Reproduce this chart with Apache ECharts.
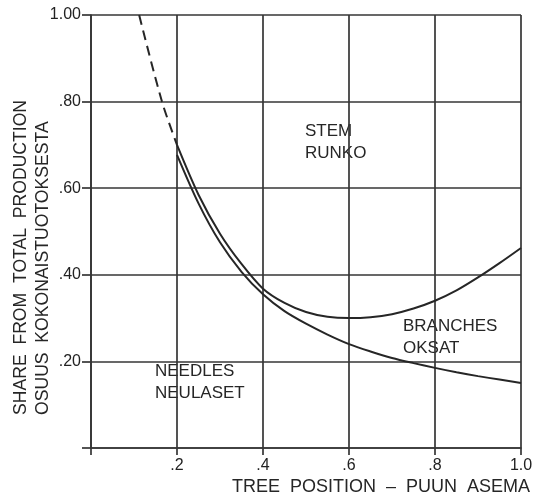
<!DOCTYPE html>
<html>
<head>
<meta charset="utf-8">
<script src="https://cdn.jsdelivr.net/npm/echarts@6/dist/echarts.min.js"></script>
<style>
html,body{margin:0;padding:0;background:#fff;}
#chart{width:534px;height:496px;}
</style>
</head>
<body>
<div id="chart"></div>
<script>
// ---- data ----
const xTicks = [0.2, 0.4, 0.6, 0.8, 1.0];
const xTickLabels = ['.2', '.4', '.6', '.8', '1.0'];
const yTicks = [0.2, 0.4, 0.6, 0.8, 1.0];
const yTickLabels = ['.20', '.40', '.60', '.80', '1.00'];

// stem / branches boundary (upper curve)
const stemX = [0.20, 0.25, 0.30, 0.35, 0.40, 0.45, 0.50, 0.55, 0.60, 0.65, 0.70, 0.75, 0.80, 0.85, 0.90, 0.95, 1.00];
const stemY = [0.700, 0.585, 0.495, 0.425, 0.368, 0.335, 0.314, 0.303, 0.300, 0.302, 0.309, 0.322, 0.340, 0.364, 0.394, 0.427, 0.462];

// branches / needles boundary (lower curve)
const needleX = [0.20, 0.25, 0.30, 0.35, 0.40, 0.45, 0.50, 0.55, 0.60, 0.65, 0.70, 0.75, 0.80, 0.85, 0.90, 0.95, 1.00];
const needleY = [0.677, 0.565, 0.475, 0.407, 0.355, 0.316, 0.287, 0.262, 0.240, 0.223, 0.208, 0.196, 0.185, 0.175, 0.166, 0.158, 0.150];

// dashed extrapolation
const dashX = [0.112, 0.165, 0.20];
const dashY = [1.00, 0.80, 0.70];

const regionLabels = [
  ['STEM', 'RUNKO'],
  ['BRANCHES', 'OKSAT'],
  ['NEEDLES', 'NEULASET']
];
const xAxisTitle = 'TREE  POSITION  –  PUUN  ASEMA';
const yAxisTitle1 = 'SHARE  FROM  TOTAL  PRODUCTION';
const yAxisTitle2 = 'OSUUS  KOKONAISTUOTOKSESTA';

// ---- build ----
const zip = (xs, ys) => xs.map((x, i) => [x, ys[i]]);
const INK = '#262626';
const FONT = 'Liberation Sans, Arial, sans-serif';
const gridLine = { color: '#363636', width: 1.7 };
const lbl = (ticks, labels) => v => {
  const i = ticks.findIndex(t => Math.abs(t - v) < 1e-6);
  return i >= 0 ? labels[i] : '';
};

const chart = echarts.init(document.getElementById('chart'), null, { renderer: 'canvas' });

const txt = (text, x, y, size, extra) => Object.assign({
  type: 'text', x: x, y: y,
  style: { text: text, fill: INK, font: size + 'px ' + FONT, textAlign: 'left', textVerticalAlign: 'middle' }
}, extra || {});

chart.setOption({
  animation: false,
  backgroundColor: '#ffffff',
  grid: { left: 91, right: 13, top: 15, bottom: 48, containLabel: false, outerBoundsMode: 'none' },
  xAxis: {
    type: 'value', min: 0, max: 1, interval: 0.2,
    axisLine: { show: true, lineStyle: gridLine },
    axisTick: { show: true, length: 7, lineStyle: gridLine },
    axisLabel: { margin: 10, fontSize: 16, color: '#222', fontFamily: FONT, formatter: lbl(xTicks, xTickLabels) },
    splitLine: { show: true, lineStyle: gridLine }
  },
  yAxis: {
    type: 'value', min: 0, max: 1, interval: 0.2,
    axisLine: { show: true, lineStyle: gridLine },
    axisTick: { show: true, length: 9, lineStyle: gridLine },
    axisLabel: { margin: 10, fontSize: 16, color: '#222', fontFamily: FONT, formatter: lbl(yTicks, yTickLabels) },
    splitLine: { show: true, lineStyle: gridLine }
  },
  series: [
    { type: 'line', data: zip(stemX, stemY), smooth: 0.3, showSymbol: false, lineStyle: { color: INK, width: 2 } },
    { type: 'line', data: zip(needleX, needleY), smooth: 0.3, showSymbol: false, lineStyle: { color: INK, width: 2 } },
    { type: 'line', data: zip(dashX, dashY), smooth: 0.3, showSymbol: false, lineStyle: { color: INK, width: 2, type: [10, 6] } }
  ],
  graphic: [
    txt(regionLabels[0][0], 305, 131, 17),
    txt(regionLabels[0][1], 305, 153, 17),
    txt(regionLabels[1][0], 403, 326, 17),
    txt(regionLabels[1][1], 403, 348, 17),
    txt(regionLabels[2][0], 155, 371, 17),
    txt(regionLabels[2][1], 155, 393, 17),
    { type: 'text', x: 530, y: 487, style: { text: xAxisTitle, fill: INK, font: '18px ' + FONT, textAlign: 'right', textVerticalAlign: 'middle' } },
    { type: 'text', x: 21, y: 415, rotation: Math.PI / 2, style: { text: yAxisTitle1, fill: INK, font: '17.6px ' + FONT, textAlign: 'left', textVerticalAlign: 'middle' } },
    { type: 'text', x: 43, y: 415, rotation: Math.PI / 2, style: { text: yAxisTitle2, fill: INK, font: '17.6px ' + FONT, textAlign: 'left', textVerticalAlign: 'middle' } }
  ]
});
</script>
</body>
</html>
